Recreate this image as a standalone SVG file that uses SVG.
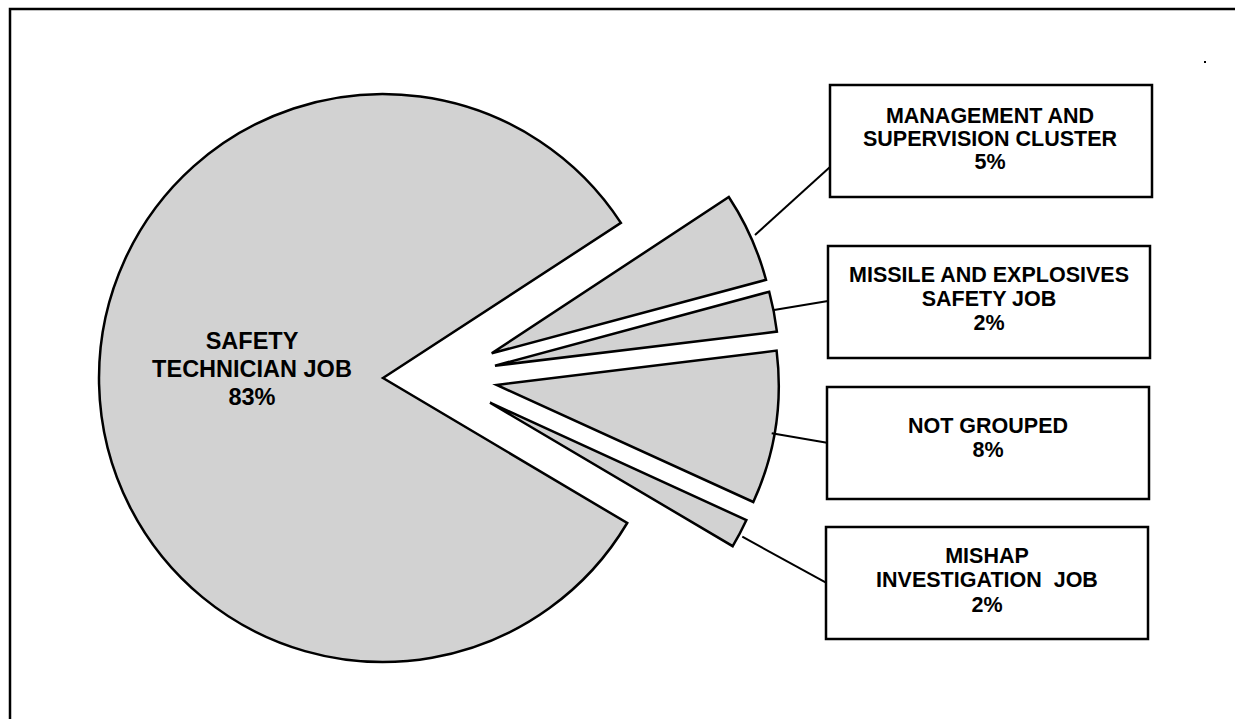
<svg xmlns="http://www.w3.org/2000/svg" width="1235" height="719" viewBox="0 0 1235 719">
<style>
.bg{fill:#ffffff}
.frame{fill:none;stroke:#000;stroke-width:2.5}
.slice{fill:#d2d2d2;stroke:#000;stroke-width:2.5;stroke-linejoin:miter}
.box{fill:#ffffff;stroke:#000;stroke-width:2.5}
.lbl{font-family:"Liberation Sans",Arial,sans-serif;font-weight:bold;font-size:21.5px;fill:#000;text-anchor:middle;white-space:pre}
.big{font-size:23.5px}
.conn{stroke:#000;stroke-width:2;fill:none}
</style>
<rect class="bg" x="0" y="0" width="1235" height="719"/>
<path class="frame" d="M10,745 L10,9 L1260,9"/>
<g id="pie">
<g id="safety-technician">
<path class="slice" d="M383,378 L620.9,222.9 A284,284 0 1 0 627.2,523 Z"/>
<text class="lbl big" x="252" y="349">SAFETY</text>
<text class="lbl big" x="252" y="377">TECHNICIAN JOB</text>
<text class="lbl big" x="252" y="405">83%</text>
</g>
<path id="slice-management" class="slice" d="M491.7,353.3 L728.8,197 A284,284 0 0 1 766,279.8 Z"/>
<path id="slice-missile" class="slice" d="M495,365.7 L769.2,291.7 A284,284 0 0 1 776.9,331.6 Z"/>
<path id="slice-notgrouped" class="slice" d="M496.7,385 L776.6,350.6 A282,282 0 0 1 753.3,502 Z"/>
<path id="slice-mishap" class="slice" d="M490,402.7 L746.4,520.1 A282,282 0 0 1 732.7,546.2 Z"/>
</g>
<g id="connectors">
<line class="conn" x1="755" y1="235" x2="830" y2="167"/>
<line class="conn" x1="774" y1="310" x2="828" y2="301"/>
<line class="conn" x1="771.7" y1="433.3" x2="827" y2="442.7"/>
<line class="conn" x1="742.3" y1="536.7" x2="826" y2="582.7"/>
</g>
<g id="management">
<rect class="box" x="830" y="85" width="322" height="112"/>
<text class="lbl" x="990" y="123">MANAGEMENT AND</text>
<text class="lbl" x="990" y="146">SUPERVISION CLUSTER</text>
<text class="lbl" x="990" y="169">5%</text>
</g>
<g id="missile">
<rect class="box" x="828" y="246" width="322" height="112"/>
<text class="lbl" x="989" y="282">MISSILE AND EXPLOSIVES</text>
<text class="lbl" x="989" y="306">SAFETY JOB</text>
<text class="lbl" x="989" y="330">2%</text>
</g>
<g id="notgrouped">
<rect class="box" x="827" y="387" width="322" height="112"/>
<text class="lbl" x="988" y="433">NOT GROUPED</text>
<text class="lbl" x="988" y="457">8%</text>
</g>
<g id="mishap">
<rect class="box" x="826" y="527" width="322" height="112"/>
<text class="lbl" x="987" y="563">MISHAP</text>
<text class="lbl" x="987" y="587">INVESTIGATION  JOB</text>
<text class="lbl" x="987" y="612">2%</text>
</g>
<rect x="1204" y="61" width="2" height="2" fill="#000"/>
</svg>
